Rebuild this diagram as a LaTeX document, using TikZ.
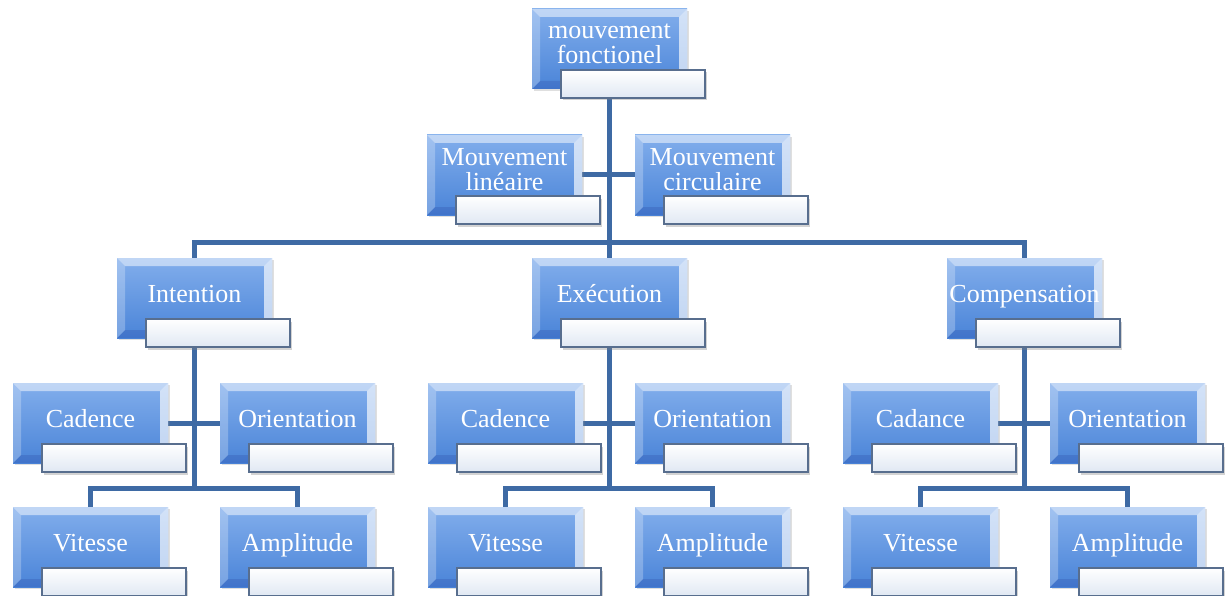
\documentclass[tikz,border=0pt]{standalone}
\usepackage{fontspec}
\setmainfont{Liberation Serif}
\usetikzlibrary{shadows}
\pgfdeclarelayer{background}
\pgfsetlayers{background,main}
\definecolor{conn}{RGB}{62,106,164}
\definecolor{btop}{RGB}{130,174,236}
\definecolor{bbot}{RGB}{74,132,216}
\definecolor{wedge}{RGB}{88,110,142}
\definecolor{wbot}{RGB}{224,232,243}
\tikzset{
  bluebox/.style={rectangle, minimum width=155pt, minimum height=80pt, inner sep=0pt,
    top color=btop, bottom color=bbot,
    drop shadow={shadow xshift=1.5pt, shadow yshift=-2pt, opacity=.25},
    path picture={
      \fill[white,opacity=.5] (path picture bounding box.north west) -- (path picture bounding box.north east)
        -- ([xshift=-8pt,yshift=-8pt]path picture bounding box.north east) -- ([xshift=8pt,yshift=-8pt]path picture bounding box.north west) -- cycle;
      \fill[white,opacity=.65] (path picture bounding box.north east) -- (path picture bounding box.south east)
        -- ([xshift=-8pt,yshift=8pt]path picture bounding box.south east) -- ([xshift=-8pt,yshift=-8pt]path picture bounding box.north east) -- cycle;
      \fill[white,opacity=.25] (path picture bounding box.north west) -- (path picture bounding box.south west)
        -- ([xshift=8pt,yshift=8pt]path picture bounding box.south west) -- ([xshift=8pt,yshift=-8pt]path picture bounding box.north west) -- cycle;
      \fill[black!60!blue,opacity=.12] (path picture bounding box.south west) -- (path picture bounding box.south east)
        -- ([xshift=-8pt,yshift=8pt]path picture bounding box.south east) -- ([xshift=8pt,yshift=8pt]path picture bounding box.south west) -- cycle;
    }},
  whitebox/.style={rectangle, minimum width=144pt, minimum height=28pt, inner sep=0pt,
    top color=white, bottom color=wbot, draw=wedge, line width=1.5pt,
    drop shadow={shadow xshift=2pt, shadow yshift=-2.5pt, opacity=.35}},
  lbl/.style={text=white, font=\fontsize{26}{25}\selectfont, align=center, inner sep=0pt},
  link/.style={draw=conn, line width=5pt}
}
% single-line box: text on a fixed baseline
\newcommand{\mkbox}[4]{%
  \node[bluebox] (#1) at (#2+77.5,#3+40) {};
  \node[whitebox] (#1w) at (#2+101,#3+75) {};
  \node[lbl, anchor=base] (#1t) at (#2+77.5,#3+44) {#4};
}
% two-line box
\newcommand{\mkboxtwo}[4]{%
  \node[bluebox] (#1) at (#2+77.5,#3+40) {};
  \node[whitebox] (#1w) at (#2+101,#3+75) {};
  \node[lbl] (#1t) at (#2+77.5,#3+35) {#4};
}
\begin{document}
\begin{tikzpicture}[x=1pt,y=-1pt]
\useasboundingbox (0,0) rectangle (1225,596);
% level 1
\mkboxtwo{top}{532}{9}{mouvement\\fonctionel}
% level 2
\mkboxtwo{lin}{427}{135}{Mouvement\\linéaire}
\mkboxtwo{circ}{635}{135}{Mouvement\\circulaire}
% level 3
\mkbox{int}{117}{258}{Intention}
\mkbox{exe}{532}{258}{Exécution}
\mkbox{comp}{947}{258}{Compensation}
% level 4, group 1
\mkbox{cadA}{13}{383}{Cadence}
\mkbox{oriA}{220}{383}{Orientation}
\mkbox{vitA}{13}{507}{Vitesse}
\mkbox{ampA}{220}{507}{Amplitude}
% group 2
\mkbox{cadB}{428}{383}{Cadence}
\mkbox{oriB}{635}{383}{Orientation}
\mkbox{vitB}{428}{507}{Vitesse}
\mkbox{ampB}{635}{507}{Amplitude}
% group 3
\mkbox{cadC}{843}{383}{Cadance}
\mkbox{oriC}{1050}{383}{Orientation}
\mkbox{vitC}{843}{507}{Vitesse}
\mkbox{ampC}{1050}{507}{Amplitude}
\coordinate (bar) at (608,242);
\coordinate (gA) at (193,488);
\coordinate (gB) at (608,488);
\coordinate (gC) at (1025,488);
\begin{pgfonlayer}{background}
  \draw[link] (top.center) -- (exe.center);
  \draw[link] (lin.east) -- (circ.west);
  \draw[link] (int.center) |- (bar) -| (comp.center);
  \draw[link] (int.center) -- (int.center |- gA);
  \draw[link] (exe.center) -- (exe.center |- gB);
  \draw[link] (comp.center) -- (comp.center |- gC);
  \draw[link] (cadA.east) -- (oriA.west);
  \draw[link] (cadB.east) -- (oriB.west);
  \draw[link] (cadC.east) -- (oriC.west);
  \draw[link] (vitA.center) |- (gA) -| (ampA.center);
  \draw[link] (vitB.center) |- (gB) -| (ampB.center);
  \draw[link] (vitC.center) |- (gC) -| (ampC.center);
\end{pgfonlayer}
\end{tikzpicture}
\end{document}
